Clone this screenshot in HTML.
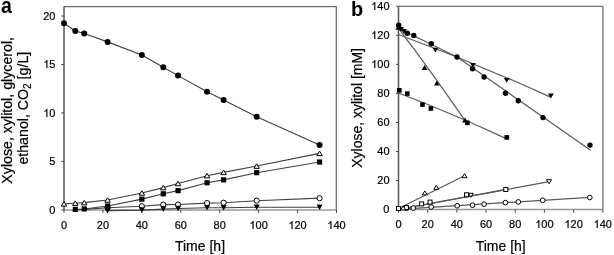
<!DOCTYPE html>
<html><head><meta charset="utf-8"><style>
html,body{margin:0;padding:0;background:#fff;}
svg{display:block;will-change:transform;}
</style></head><body>
<svg width="614" height="255" viewBox="0 0 614 255">
<rect width="614" height="255" fill="#fff"/>
<path d="M64.0,6.6 H336.3 V210.0" stroke="#707070" stroke-width="1.3" fill="none"/>
<path d="M64.0,210.0 H336.3" stroke="#999" stroke-width="1.5" fill="none"/>
<path d="M64.0,6.6 V210.0" stroke="#555" stroke-width="1.5" fill="none"/>
<path d="M61.3,209.90 H64.0" stroke="#444" stroke-width="1"/>
<g transform="translate(0,214) scale(1,1.041)">
<text x="55.50" y="0" font-size="11" text-anchor="end" font-family="Liberation Sans, sans-serif" stroke="#000" stroke-width="0.2">0</text>
</g>
<path d="M61.3,161.43 H64.0" stroke="#444" stroke-width="1"/>
<g transform="translate(0,165) scale(1,1.041)">
<text x="55.50" y="0" font-size="11" text-anchor="end" font-family="Liberation Sans, sans-serif" stroke="#000" stroke-width="0.2">5</text>
</g>
<path d="M61.3,112.95 H64.0" stroke="#444" stroke-width="1"/>
<g transform="translate(0,117) scale(1,1.041)">
<path d="M763,0 L583,0 L583,1147 C540,1106 483,1065 413,1024 C343,983 280,952 225,931 L225,1105 C326,1152 414,1210 489,1278 C564,1346 617,1412 648,1476 L763,1476 Z" transform="translate(43.265,0) scale(0.005371,-0.005127)" fill="#000" stroke="#000" stroke-width="0.2" vector-effect="non-scaling-stroke"/>
<text x="55.50" y="0" font-size="11" text-anchor="end" font-family="Liberation Sans, sans-serif" stroke="#000" stroke-width="0.2">&#8199;0</text>
</g>
<path d="M61.3,64.47 H64.0" stroke="#444" stroke-width="1"/>
<g transform="translate(0,68) scale(1,1.041)">
<path d="M763,0 L583,0 L583,1147 C540,1106 483,1065 413,1024 C343,983 280,952 225,931 L225,1105 C326,1152 414,1210 489,1278 C564,1346 617,1412 648,1476 L763,1476 Z" transform="translate(43.265,0) scale(0.005371,-0.005127)" fill="#000" stroke="#000" stroke-width="0.2" vector-effect="non-scaling-stroke"/>
<text x="55.50" y="0" font-size="11" text-anchor="end" font-family="Liberation Sans, sans-serif" stroke="#000" stroke-width="0.2">&#8199;5</text>
</g>
<path d="M61.3,16.00 H64.0" stroke="#444" stroke-width="1"/>
<g transform="translate(0,20) scale(1,1.041)">
<text x="55.50" y="0" font-size="11" text-anchor="end" font-family="Liberation Sans, sans-serif" stroke="#000" stroke-width="0.2">20</text>
</g>
<path d="M64.00,209.9 V212.9" stroke="#444" stroke-width="1"/>
<g transform="translate(0,229) scale(1,1.041)">
<text x="64.00" y="0" font-size="11" text-anchor="middle" font-family="Liberation Sans, sans-serif" stroke="#000" stroke-width="0.2">0</text>
</g>
<path d="M102.93,209.9 V212.9" stroke="#444" stroke-width="1"/>
<g transform="translate(0,229) scale(1,1.041)">
<text x="102.93" y="0" font-size="11" text-anchor="middle" font-family="Liberation Sans, sans-serif" stroke="#000" stroke-width="0.2">20</text>
</g>
<path d="M141.86,209.9 V212.9" stroke="#444" stroke-width="1"/>
<g transform="translate(0,229) scale(1,1.041)">
<text x="141.86" y="0" font-size="11" text-anchor="middle" font-family="Liberation Sans, sans-serif" stroke="#000" stroke-width="0.2">40</text>
</g>
<path d="M180.79,209.9 V212.9" stroke="#444" stroke-width="1"/>
<g transform="translate(0,229) scale(1,1.041)">
<text x="180.79" y="0" font-size="11" text-anchor="middle" font-family="Liberation Sans, sans-serif" stroke="#000" stroke-width="0.2">60</text>
</g>
<path d="M219.71,209.9 V212.9" stroke="#444" stroke-width="1"/>
<g transform="translate(0,229) scale(1,1.041)">
<text x="219.71" y="0" font-size="11" text-anchor="middle" font-family="Liberation Sans, sans-serif" stroke="#000" stroke-width="0.2">80</text>
</g>
<path d="M258.64,209.9 V212.9" stroke="#444" stroke-width="1"/>
<g transform="translate(0,229) scale(1,1.041)">
<path d="M763,0 L583,0 L583,1147 C540,1106 483,1065 413,1024 C343,983 280,952 225,931 L225,1105 C326,1152 414,1210 489,1278 C564,1346 617,1412 648,1476 L763,1476 Z" transform="translate(249.466,0) scale(0.005371,-0.005127)" fill="#000" stroke="#000" stroke-width="0.2" vector-effect="non-scaling-stroke"/>
<text x="258.64" y="0" font-size="11" text-anchor="middle" font-family="Liberation Sans, sans-serif" stroke="#000" stroke-width="0.2">&#8199;00</text>
</g>
<path d="M297.57,209.9 V212.9" stroke="#444" stroke-width="1"/>
<g transform="translate(0,229) scale(1,1.041)">
<path d="M763,0 L583,0 L583,1147 C540,1106 483,1065 413,1024 C343,983 280,952 225,931 L225,1105 C326,1152 414,1210 489,1278 C564,1346 617,1412 648,1476 L763,1476 Z" transform="translate(288.395,0) scale(0.005371,-0.005127)" fill="#000" stroke="#000" stroke-width="0.2" vector-effect="non-scaling-stroke"/>
<text x="297.57" y="0" font-size="11" text-anchor="middle" font-family="Liberation Sans, sans-serif" stroke="#000" stroke-width="0.2">&#8199;20</text>
</g>
<path d="M336.50,209.9 V212.9" stroke="#444" stroke-width="1"/>
<g transform="translate(0,229) scale(1,1.041)">
<path d="M763,0 L583,0 L583,1147 C540,1106 483,1065 413,1024 C343,983 280,952 225,931 L225,1105 C326,1152 414,1210 489,1278 C564,1346 617,1412 648,1476 L763,1476 Z" transform="translate(327.323,0) scale(0.005371,-0.005127)" fill="#000" stroke="#000" stroke-width="0.2" vector-effect="non-scaling-stroke"/>
<text x="336.50" y="0" font-size="11" text-anchor="middle" font-family="Liberation Sans, sans-serif" stroke="#000" stroke-width="0.2">&#8199;40</text>
</g>
<path d="M107.60,210.58 L141.86,210.09 L163.27,209.12 L178.06,208.54 L207.06,207.77 L223.61,207.77 L256.70,207.28 L319.57,207.19" stroke="#404040" stroke-width="1.1" fill="none"/>
<path d="M75.29,209.71 L84.24,209.42 L107.60,207.77 L141.86,206.22 L163.27,204.66 L178.06,204.57 L207.06,203.11 L223.61,202.73 L256.70,200.69 L319.57,198.17" stroke="#404040" stroke-width="1.1" fill="none"/>
<path d="M75.29,209.42 L84.24,208.93 L107.60,206.02 L141.86,199.14 L163.27,193.81 L178.06,190.61 L207.06,182.75 L223.61,179.85 L256.70,172.67 L319.57,162.01" stroke="#404040" stroke-width="1.1" fill="none"/>
<path d="M64.00,203.79 L75.29,203.21 L84.24,202.63 L107.60,200.01 L141.86,192.93 L163.27,187.60 L178.06,183.53 L207.06,175.68 L223.61,172.38 L256.70,166.08 L319.57,153.38" stroke="#404040" stroke-width="1.1" fill="none"/>
<path d="M64.00,23.27 L75.29,31.03 L84.24,33.55 L107.60,41.89 L141.86,55.07 L163.27,67.19 L178.06,75.62 L207.06,91.72 L223.61,100.06 L256.70,116.83 L319.57,145.04" stroke="#404040" stroke-width="1.1" fill="none"/>
<circle cx="107.60" cy="207.77" r="2.6" fill="#fff" stroke="#000" stroke-width="1"/>
<circle cx="141.86" cy="206.22" r="2.6" fill="#fff" stroke="#000" stroke-width="1"/>
<circle cx="163.27" cy="204.66" r="2.6" fill="#fff" stroke="#000" stroke-width="1"/>
<circle cx="178.06" cy="204.57" r="2.6" fill="#fff" stroke="#000" stroke-width="1"/>
<circle cx="207.06" cy="203.11" r="2.6" fill="#fff" stroke="#000" stroke-width="1"/>
<circle cx="223.61" cy="202.73" r="2.6" fill="#fff" stroke="#000" stroke-width="1"/>
<circle cx="256.70" cy="200.69" r="2.6" fill="#fff" stroke="#000" stroke-width="1"/>
<circle cx="319.57" cy="198.17" r="2.6" fill="#fff" stroke="#000" stroke-width="1"/>
<polygon points="104.60,207.78 110.60,207.78 107.60,213.38" fill="#000"/>
<polygon points="138.86,207.29 144.86,207.29 141.86,212.89" fill="#000"/>
<polygon points="160.27,206.32 166.27,206.32 163.27,211.92" fill="#000"/>
<polygon points="175.06,205.74 181.06,205.74 178.06,211.34" fill="#000"/>
<polygon points="204.06,204.97 210.06,204.97 207.06,210.57" fill="#000"/>
<polygon points="220.61,204.97 226.61,204.97 223.61,210.57" fill="#000"/>
<polygon points="253.70,204.48 259.70,204.48 256.70,210.08" fill="#000"/>
<polygon points="316.57,204.39 322.57,204.39 319.57,209.99" fill="#000"/>
<rect x="72.69" y="206.82" width="5.2" height="5.2" fill="#000"/>
<rect x="81.64" y="206.33" width="5.2" height="5.2" fill="#000"/>
<rect x="105.00" y="203.42" width="5.2" height="5.2" fill="#000"/>
<rect x="139.26" y="196.54" width="5.2" height="5.2" fill="#000"/>
<rect x="160.67" y="191.21" width="5.2" height="5.2" fill="#000"/>
<rect x="175.46" y="188.01" width="5.2" height="5.2" fill="#000"/>
<rect x="204.46" y="180.15" width="5.2" height="5.2" fill="#000"/>
<rect x="221.01" y="177.25" width="5.2" height="5.2" fill="#000"/>
<rect x="254.10" y="170.07" width="5.2" height="5.2" fill="#000"/>
<rect x="316.97" y="159.41" width="5.2" height="5.2" fill="#000"/>
<polygon points="64.00,201.54 66.75,206.04 61.25,206.04" fill="#fff" stroke="#000" stroke-width="1"/>
<polygon points="75.29,200.96 78.04,205.46 72.54,205.46" fill="#fff" stroke="#000" stroke-width="1"/>
<polygon points="84.24,200.38 86.99,204.88 81.49,204.88" fill="#fff" stroke="#000" stroke-width="1"/>
<polygon points="107.60,197.76 110.35,202.26 104.85,202.26" fill="#fff" stroke="#000" stroke-width="1"/>
<polygon points="141.86,190.68 144.61,195.18 139.11,195.18" fill="#fff" stroke="#000" stroke-width="1"/>
<polygon points="163.27,185.35 166.02,189.85 160.52,189.85" fill="#fff" stroke="#000" stroke-width="1"/>
<polygon points="178.06,181.28 180.81,185.78 175.31,185.78" fill="#fff" stroke="#000" stroke-width="1"/>
<polygon points="207.06,173.43 209.81,177.93 204.31,177.93" fill="#fff" stroke="#000" stroke-width="1"/>
<polygon points="223.61,170.13 226.36,174.63 220.86,174.63" fill="#fff" stroke="#000" stroke-width="1"/>
<polygon points="256.70,163.83 259.45,168.33 253.95,168.33" fill="#fff" stroke="#000" stroke-width="1"/>
<polygon points="319.57,151.13 322.32,155.63 316.82,155.63" fill="#fff" stroke="#000" stroke-width="1"/>
<circle cx="64.00" cy="23.27" r="3.0" fill="#000"/>
<circle cx="75.29" cy="31.03" r="3.0" fill="#000"/>
<circle cx="84.24" cy="33.55" r="3.0" fill="#000"/>
<circle cx="107.60" cy="41.89" r="3.0" fill="#000"/>
<circle cx="141.86" cy="55.07" r="3.0" fill="#000"/>
<circle cx="163.27" cy="67.19" r="3.0" fill="#000"/>
<circle cx="178.06" cy="75.62" r="3.0" fill="#000"/>
<circle cx="207.06" cy="91.72" r="3.0" fill="#000"/>
<circle cx="223.61" cy="100.06" r="3.0" fill="#000"/>
<circle cx="256.70" cy="116.83" r="3.0" fill="#000"/>
<circle cx="319.57" cy="145.04" r="3.0" fill="#000"/>
<path d="M398.5,6.4 H602.9 V209.5" stroke="#707070" stroke-width="1.3" fill="none"/>
<path d="M398.5,209.5 H602.9" stroke="#999" stroke-width="1.5" fill="none"/>
<path d="M398.5,6.4 V209.5" stroke="#555" stroke-width="1.5" fill="none"/>
<path d="M396.0,209.66 H398.5" stroke="#444" stroke-width="1"/>
<g transform="translate(0,213) scale(1,1.041)">
<text x="389.50" y="0" font-size="11" text-anchor="end" font-family="Liberation Sans, sans-serif" stroke="#000" stroke-width="0.2">0</text>
</g>
<path d="M396.0,180.60 H398.5" stroke="#444" stroke-width="1"/>
<g transform="translate(0,184) scale(1,1.041)">
<text x="389.50" y="0" font-size="11" text-anchor="end" font-family="Liberation Sans, sans-serif" stroke="#000" stroke-width="0.2">20</text>
</g>
<path d="M396.0,151.54 H398.5" stroke="#444" stroke-width="1"/>
<g transform="translate(0,155) scale(1,1.041)">
<text x="389.50" y="0" font-size="11" text-anchor="end" font-family="Liberation Sans, sans-serif" stroke="#000" stroke-width="0.2">40</text>
</g>
<path d="M396.0,122.48 H398.5" stroke="#444" stroke-width="1"/>
<g transform="translate(0,126) scale(1,1.041)">
<text x="389.50" y="0" font-size="11" text-anchor="end" font-family="Liberation Sans, sans-serif" stroke="#000" stroke-width="0.2">60</text>
</g>
<path d="M396.0,93.42 H398.5" stroke="#444" stroke-width="1"/>
<g transform="translate(0,97) scale(1,1.041)">
<text x="389.50" y="0" font-size="11" text-anchor="end" font-family="Liberation Sans, sans-serif" stroke="#000" stroke-width="0.2">80</text>
</g>
<path d="M396.0,64.36 H398.5" stroke="#444" stroke-width="1"/>
<g transform="translate(0,68) scale(1,1.041)">
<path d="M763,0 L583,0 L583,1147 C540,1106 483,1065 413,1024 C343,983 280,952 225,931 L225,1105 C326,1152 414,1210 489,1278 C564,1346 617,1412 648,1476 L763,1476 Z" transform="translate(371.147,0) scale(0.005371,-0.005127)" fill="#000" stroke="#000" stroke-width="0.2" vector-effect="non-scaling-stroke"/>
<text x="389.50" y="0" font-size="11" text-anchor="end" font-family="Liberation Sans, sans-serif" stroke="#000" stroke-width="0.2">&#8199;00</text>
</g>
<path d="M396.0,35.30 H398.5" stroke="#444" stroke-width="1"/>
<g transform="translate(0,39) scale(1,1.041)">
<path d="M763,0 L583,0 L583,1147 C540,1106 483,1065 413,1024 C343,983 280,952 225,931 L225,1105 C326,1152 414,1210 489,1278 C564,1346 617,1412 648,1476 L763,1476 Z" transform="translate(371.147,0) scale(0.005371,-0.005127)" fill="#000" stroke="#000" stroke-width="0.2" vector-effect="non-scaling-stroke"/>
<text x="389.50" y="0" font-size="11" text-anchor="end" font-family="Liberation Sans, sans-serif" stroke="#000" stroke-width="0.2">&#8199;20</text>
</g>
<path d="M396.0,6.24 H398.5" stroke="#444" stroke-width="1"/>
<g transform="translate(0,10) scale(1,1.041)">
<path d="M763,0 L583,0 L583,1147 C540,1106 483,1065 413,1024 C343,983 280,952 225,931 L225,1105 C326,1152 414,1210 489,1278 C564,1346 617,1412 648,1476 L763,1476 Z" transform="translate(371.147,0) scale(0.005371,-0.005127)" fill="#000" stroke="#000" stroke-width="0.2" vector-effect="non-scaling-stroke"/>
<text x="389.50" y="0" font-size="11" text-anchor="end" font-family="Liberation Sans, sans-serif" stroke="#000" stroke-width="0.2">&#8199;40</text>
</g>
<path d="M398.50,209.66 V212.66" stroke="#444" stroke-width="1"/>
<g transform="translate(0,228) scale(1,1.041)">
<text x="398.50" y="0" font-size="11" text-anchor="middle" font-family="Liberation Sans, sans-serif" stroke="#000" stroke-width="0.2">0</text>
</g>
<path d="M427.69,209.66 V212.66" stroke="#444" stroke-width="1"/>
<g transform="translate(0,228) scale(1,1.041)">
<text x="427.69" y="0" font-size="11" text-anchor="middle" font-family="Liberation Sans, sans-serif" stroke="#000" stroke-width="0.2">20</text>
</g>
<path d="M456.87,209.66 V212.66" stroke="#444" stroke-width="1"/>
<g transform="translate(0,228) scale(1,1.041)">
<text x="456.87" y="0" font-size="11" text-anchor="middle" font-family="Liberation Sans, sans-serif" stroke="#000" stroke-width="0.2">40</text>
</g>
<path d="M486.06,209.66 V212.66" stroke="#444" stroke-width="1"/>
<g transform="translate(0,228) scale(1,1.041)">
<text x="486.06" y="0" font-size="11" text-anchor="middle" font-family="Liberation Sans, sans-serif" stroke="#000" stroke-width="0.2">60</text>
</g>
<path d="M515.24,209.66 V212.66" stroke="#444" stroke-width="1"/>
<g transform="translate(0,228) scale(1,1.041)">
<text x="515.24" y="0" font-size="11" text-anchor="middle" font-family="Liberation Sans, sans-serif" stroke="#000" stroke-width="0.2">80</text>
</g>
<path d="M544.43,209.66 V212.66" stroke="#444" stroke-width="1"/>
<g transform="translate(0,228) scale(1,1.041)">
<path d="M763,0 L583,0 L583,1147 C540,1106 483,1065 413,1024 C343,983 280,952 225,931 L225,1105 C326,1152 414,1210 489,1278 C564,1346 617,1412 648,1476 L763,1476 Z" transform="translate(535.252,0) scale(0.005371,-0.005127)" fill="#000" stroke="#000" stroke-width="0.2" vector-effect="non-scaling-stroke"/>
<text x="544.43" y="0" font-size="11" text-anchor="middle" font-family="Liberation Sans, sans-serif" stroke="#000" stroke-width="0.2">&#8199;00</text>
</g>
<path d="M573.61,209.66 V212.66" stroke="#444" stroke-width="1"/>
<g transform="translate(0,228) scale(1,1.041)">
<path d="M763,0 L583,0 L583,1147 C540,1106 483,1065 413,1024 C343,983 280,952 225,931 L225,1105 C326,1152 414,1210 489,1278 C564,1346 617,1412 648,1476 L763,1476 Z" transform="translate(564.438,0) scale(0.005371,-0.005127)" fill="#000" stroke="#000" stroke-width="0.2" vector-effect="non-scaling-stroke"/>
<text x="573.61" y="0" font-size="11" text-anchor="middle" font-family="Liberation Sans, sans-serif" stroke="#000" stroke-width="0.2">&#8199;20</text>
</g>
<path d="M602.80,209.66 V212.66" stroke="#444" stroke-width="1"/>
<g transform="translate(0,228) scale(1,1.041)">
<path d="M763,0 L583,0 L583,1147 C540,1106 483,1065 413,1024 C343,983 280,952 225,931 L225,1105 C326,1152 414,1210 489,1278 C564,1346 617,1412 648,1476 L763,1476 Z" transform="translate(593.623,0) scale(0.005371,-0.005127)" fill="#000" stroke="#000" stroke-width="0.2" vector-effect="non-scaling-stroke"/>
<text x="602.80" y="0" font-size="11" text-anchor="middle" font-family="Liberation Sans, sans-serif" stroke="#000" stroke-width="0.2">&#8199;40</text>
</g>
<path d="M398.50,28.30 L457.00,56.90 L590.60,150.30" stroke="#585858" stroke-width="1.2" fill="none"/>
<path d="M398.5,34.53 Q474.75,62.73 551,97.38" stroke="#585858" stroke-width="1.2" fill="none"/>
<path d="M398.5,28.3 Q431.75,72.1 465,120.6" stroke="#585858" stroke-width="1.2" fill="none"/>
<path d="M398.5,93.0 Q452.65,113.6 506.8,138.9" stroke="#585858" stroke-width="1.2" fill="none"/>
<path d="M398.50,208.50 L464.50,175.80" stroke="#585858" stroke-width="1.2" fill="none"/>
<path d="M398.50,209.30 L506.00,189.30" stroke="#585858" stroke-width="1.2" fill="none"/>
<path d="M398.50,209.50 L549.00,181.70" stroke="#585858" stroke-width="1.2" fill="none"/>
<path d="M398.50,209.30 L590.00,197.30" stroke="#585858" stroke-width="1.2" fill="none"/>
<circle cx="406.50" cy="208.30" r="2.35" fill="#fff" stroke="#000" stroke-width="1"/>
<circle cx="413.30" cy="208.10" r="2.35" fill="#fff" stroke="#000" stroke-width="1"/>
<circle cx="431.20" cy="207.00" r="2.35" fill="#fff" stroke="#000" stroke-width="1"/>
<circle cx="457.20" cy="205.80" r="2.35" fill="#fff" stroke="#000" stroke-width="1"/>
<circle cx="472.50" cy="205.20" r="2.35" fill="#fff" stroke="#000" stroke-width="1"/>
<circle cx="484.10" cy="204.20" r="2.35" fill="#fff" stroke="#000" stroke-width="1"/>
<circle cx="505.40" cy="202.60" r="2.35" fill="#fff" stroke="#000" stroke-width="1"/>
<circle cx="518.30" cy="201.90" r="2.35" fill="#fff" stroke="#000" stroke-width="1"/>
<circle cx="542.70" cy="200.30" r="2.35" fill="#fff" stroke="#000" stroke-width="1"/>
<circle cx="589.80" cy="197.50" r="2.35" fill="#fff" stroke="#000" stroke-width="1"/>
<polygon points="468.30,193.30 473.30,193.30 470.80,197.30" fill="#fff" stroke="#000" stroke-width="1"/>
<polygon points="546.50,179.70 551.50,179.70 549.00,183.70" fill="#fff" stroke="#000" stroke-width="1"/>
<rect x="396.50" y="206.50" width="4.0" height="4.0" fill="#fff" stroke="#000" stroke-width="1"/>
<rect x="404.40" y="205.60" width="4.0" height="4.0" fill="#fff" stroke="#000" stroke-width="1"/>
<rect x="419.60" y="201.90" width="4.0" height="4.0" fill="#fff" stroke="#000" stroke-width="1"/>
<rect x="428.00" y="200.10" width="4.0" height="4.0" fill="#fff" stroke="#000" stroke-width="1"/>
<rect x="464.50" y="192.80" width="4.0" height="4.0" fill="#fff" stroke="#000" stroke-width="1"/>
<rect x="503.80" y="187.50" width="4.0" height="4.0" fill="#fff" stroke="#000" stroke-width="1"/>
<polygon points="403.20,205.90 405.70,209.90 400.70,209.90" fill="#fff" stroke="#000" stroke-width="1"/>
<polygon points="424.80,190.90 427.30,194.90 422.30,194.90" fill="#fff" stroke="#000" stroke-width="1"/>
<polygon points="436.30,185.30 438.80,189.30 433.80,189.30" fill="#fff" stroke="#000" stroke-width="1"/>
<polygon points="464.50,173.70 467.00,177.70 462.00,177.70" fill="#fff" stroke="#000" stroke-width="1"/>
<rect x="397.00" y="88.00" width="4.6" height="4.6" fill="#000"/>
<rect x="405.00" y="91.30" width="4.6" height="4.6" fill="#000"/>
<rect x="420.20" y="102.30" width="4.6" height="4.6" fill="#000"/>
<rect x="428.60" y="106.20" width="4.6" height="4.6" fill="#000"/>
<rect x="465.10" y="120.50" width="4.6" height="4.6" fill="#000"/>
<rect x="504.50" y="135.10" width="4.6" height="4.6" fill="#000"/>
<polygon points="398.20,25.00 401.10,29.80 395.30,29.80" fill="#000"/>
<polygon points="424.60,65.10 427.50,69.90 421.70,69.90" fill="#000"/>
<polygon points="436.80,80.80 439.70,85.60 433.90,85.60" fill="#000"/>
<polygon points="465.00,117.60 467.90,122.40 462.10,122.40" fill="#000"/>
<polygon points="398.10,27.00 403.90,27.00 401.00,31.80" fill="#000"/>
<polygon points="401.00,29.10 406.80,29.10 403.90,33.90" fill="#000"/>
<polygon points="432.60,47.80 438.40,47.80 435.50,52.60" fill="#000"/>
<polygon points="470.10,62.90 475.90,62.90 473.00,67.70" fill="#000"/>
<polygon points="503.80,78.00 509.60,78.00 506.70,82.80" fill="#000"/>
<polygon points="548.00,93.60 553.80,93.60 550.90,98.40" fill="#000"/>
<circle cx="398.70" cy="25.20" r="2.7" fill="#000"/>
<circle cx="407.30" cy="33.30" r="2.7" fill="#000"/>
<circle cx="413.80" cy="35.40" r="2.7" fill="#000"/>
<circle cx="431.30" cy="43.70" r="2.7" fill="#000"/>
<circle cx="457.00" cy="57.00" r="2.7" fill="#000"/>
<circle cx="472.60" cy="68.80" r="2.7" fill="#000"/>
<circle cx="484.10" cy="77.00" r="2.7" fill="#000"/>
<circle cx="505.50" cy="93.30" r="2.7" fill="#000"/>
<circle cx="518.30" cy="100.70" r="2.7" fill="#000"/>
<circle cx="543.00" cy="117.60" r="2.7" fill="#000"/>
<circle cx="590.00" cy="145.10" r="2.7" fill="#000"/>
<text x="0.00" y="0.00" font-size="20" text-anchor="start" font-family="Liberation Sans, sans-serif" font-weight="bold" transform="translate(1.1,12.5) scale(0.98,1.07)">a</text>
<text x="351.00" y="15.50" font-size="20" text-anchor="start" font-family="Liberation Sans, sans-serif" font-weight="bold">b</text>
<text x="200.00" y="250.70" font-size="14" text-anchor="middle" font-family="Liberation Sans, sans-serif" stroke="#000" stroke-width="0.2" >Time [h]</text>
<text x="500.70" y="250.60" font-size="14" text-anchor="middle" font-family="Liberation Sans, sans-serif" stroke="#000" stroke-width="0.2" >Time [h]</text>
<text transform="translate(11.8,110.35) rotate(-90)" font-size="14.2" text-anchor="middle" font-family="Liberation Sans, sans-serif" stroke="#000" stroke-width="0.2">Xylose, xylitol, glycerol,</text>
<text transform="translate(28,108.2) rotate(-90)" font-size="14.2" text-anchor="middle" font-family="Liberation Sans, sans-serif" stroke="#000" stroke-width="0.2">ethanol, CO<tspan font-size="10" dy="3">2</tspan><tspan dy="-3"> [g/L]</tspan></text>
<text transform="translate(361.5,107.9) rotate(-90)" font-size="14" text-anchor="middle" font-family="Liberation Sans, sans-serif" stroke="#000" stroke-width="0.2">Xylose, xylitol [mM]</text>
</svg>
</body></html>
